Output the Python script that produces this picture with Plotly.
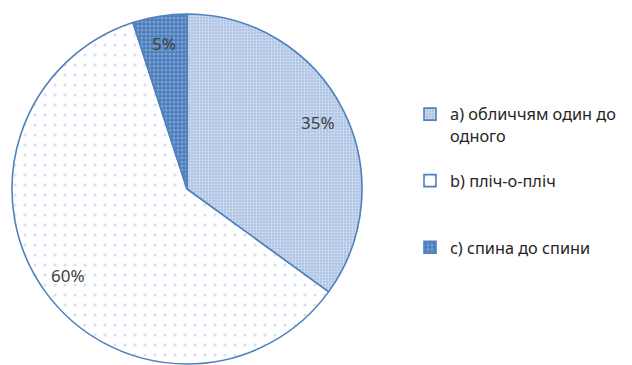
import math
import plotly.graph_objects as go

labels = ["a) обличчям один до<br>одного<br> ", "b) пліч-о-пліч<br> <br> ", "c) спина до спини"]
values = [35, 60, 5]
text_labels = ["35%", "60%", "5%"]

W, H = 632, 365
cx, cy, r = 187, 189, 175

fig = go.Figure(go.Pie(
    labels=labels,
    values=values,
    sort=False,
    direction="clockwise",
    rotation=0,
    textinfo="none",
    hoverinfo="label+percent",
    marker=dict(
        colors=["#b9cde8", "#ffffff", "#4f81bd"],
        line=dict(color="#4f81bd", width=1.6),
        pattern=dict(
            shape=[".", ".", "."],
            bgcolor=["#a8c0e2", "#ffffff", "#4a7cbc"],
            fgcolor=["#ffffff", "#a9c0e4", "#a9c3e6"],
            size=[3, 10, 4],
            solidity=[0.45, 0.08, 0.45],
            fillmode="overlay",
        ),
    ),
    domain=dict(x=[(cx - r) / W, (cx + r) / W], y=[(H - cy - r) / H, (H - cy + r) / H]),
))

# percentage labels placed along each slice's mid-angle
annotations = []
cum = 0
total = sum(values)
for v, t in zip(values, text_labels):
    mid = (cum + v / 2) / total * 2 * math.pi
    cum += v
    d = 0.84 * r
    px = cx + d * math.sin(mid)
    py = cy - d * math.cos(mid)
    annotations.append(dict(
        x=px / W, y=1 - py / H, xref="paper", yref="paper",
        xanchor="center", yanchor="middle",
        text=t, showarrow=False,
        font=dict(family="Noto Sans", size=17, color="#404040"),
    ))

fig.update_layout(
    width=W, height=H,
    margin=dict(l=0, r=0, t=0, b=0),
    paper_bgcolor="white",
    plot_bgcolor="white",
    annotations=annotations,
    showlegend=True,
    legend=dict(
        x=410 / W, y=1 - 97 / H, xanchor="left", yanchor="top",
        valign="top",
        font=dict(family="Noto Sans", size=16.3, color="#262626"),
        itemwidth=30,
        bgcolor="rgba(0,0,0,0)",
    ),
)

fig.write_html("out.html", config={"displayModeBar": False},
               post_script="document.body.style.margin='0px';")
